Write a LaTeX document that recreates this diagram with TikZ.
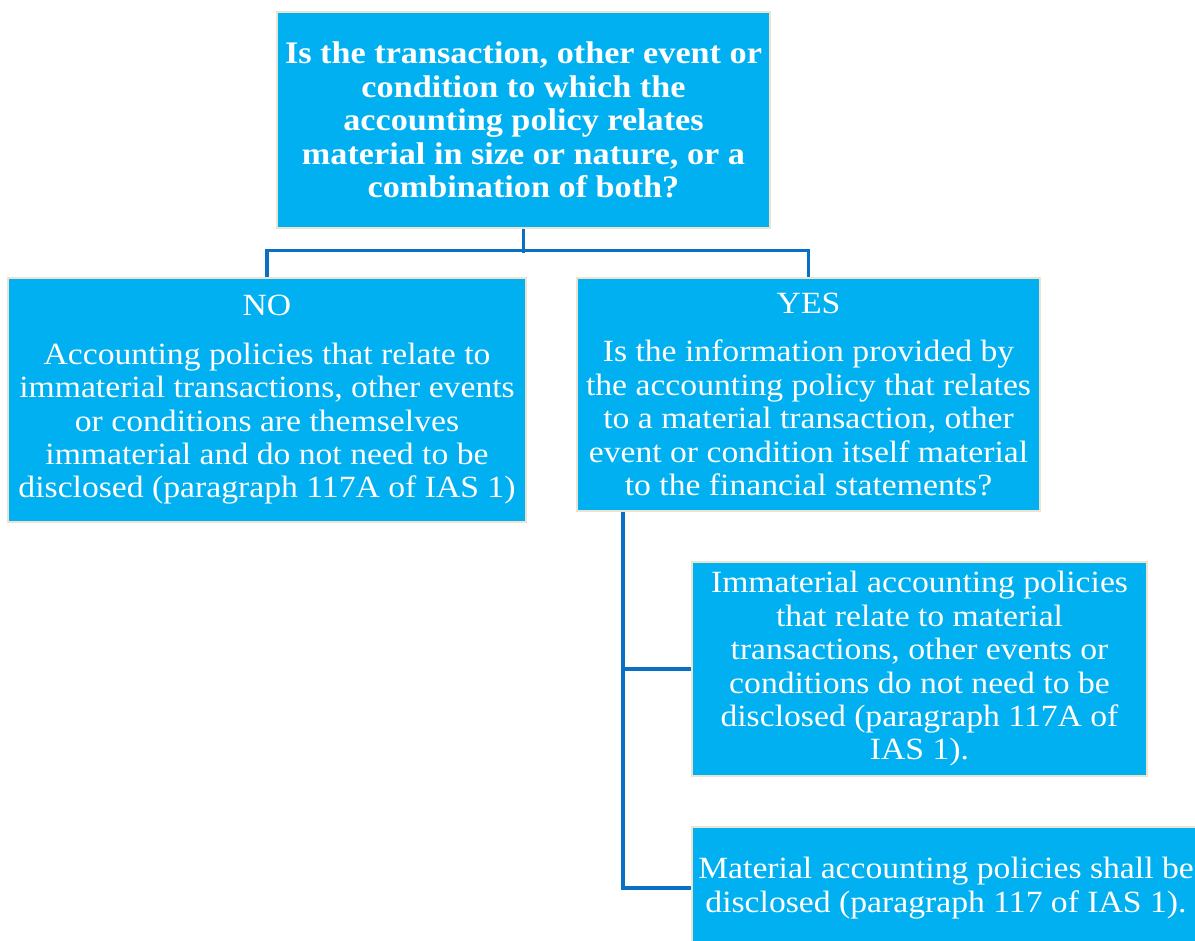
\documentclass[tikz,border=0pt]{standalone}
\usepackage{fontspec}
\setmainfont{Liberation Serif}[FakeStretch=1.09]
\usepackage{tikz}
\usepackage{xcolor}
\usetikzlibrary{positioning}
\definecolor{boxcyan}{RGB}{0,176,240}
\definecolor{boxrim}{RGB}{236,228,208}
\definecolor{linkblue}{RGB}{10,112,196}

\begin{document}
\begin{tikzpicture}[x=1bp, y=-1bp,
    box/.style={draw=boxrim, line width=2.5bp, fill=boxcyan, text=white, align=center,
      inner sep=0pt, font=\fontsize{31}{33.5}\selectfont},
    link/.style={draw=linkblue, line width=3.2bp}]
  \useasboundingbox (0,0) rectangle (1195,941);
  \clip (0,0) rectangle (1195,941);
  % question and the two answers
  \node[box, minimum width=493bp, minimum height=216bp,
        font=\bfseries\fontsize{31.5}{33.5}\selectfont] (q) at (523.5,120)
    {Is the transaction, other event or\\ condition to which the\\ accounting policy relates\\
     material in size or nature, or a\\ combination of both?};
  \node[box, minimum width=518bp, minimum height=244bp] (no) at (267,400)
    {NO\\[15bp] Accounting policies that relate to\\ immaterial transactions, other events\\
     or conditions are themselves\\ immaterial and do not need to be\\
     disclosed (paragraph 117A of IAS 1)};
  \node[box, minimum width=463bp, minimum height=233bp] (yes) at (808.5,394.5)
    {YES\\[15bp] Is the information provided by\\ the accounting policy that relates\\
     to a material transaction, other\\ event or condition itself material\\
     to the financial statements?};
  % outcomes of the YES question
  \node[box, minimum width=455bp, minimum height=214bp] (imm) at (919.5,669)
    {Immaterial accounting policies\\ that relate to material\\ transactions, other events or\\
     conditions do not need to be\\ disclosed (paragraph 117A of\\ IAS 1).};
  \node[box, minimum width=508bp, minimum height=122bp] (mat) at (946,888)
    {Material accounting policies shall be\\ disclosed (paragraph 117 of IAS 1).};
  % connectors
  \draw[link] (q.south) -- ++(0,24);
  \draw[link] (no.north) -- ++(0,-26) -| (yes.north);
  \draw[link] ([xshift=-185.5bp]yes.south) |- (mat.west);
  \draw[link] ([xshift=-185.5bp]yes.south |- imm.west) -- (imm.west);
\end{tikzpicture}
\end{document}
